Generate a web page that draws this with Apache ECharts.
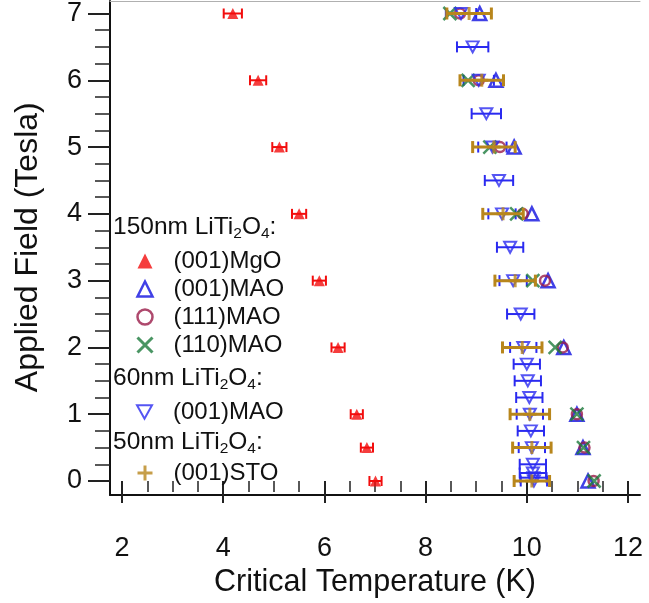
<!DOCTYPE html>
<html><head><meta charset="utf-8">
<script src="https://cdn.jsdelivr.net/npm/echarts@6/dist/echarts.min.js"></script>
<style>html,body{margin:0;padding:0;background:#fff}#c{width:649px;height:603px}</style>
</head><body><div id="c"></div>
<script>
// ---- data ----
const xTicks = [2, 4, 6, 8, 10, 12];
const yTicks = [0, 1, 2, 3, 4, 5, 6, 7];

const mgoField = [7, 6, 5, 4, 3, 2, 1, 0.5, 0];
const mgoTc    = [4.19, 4.69, 5.11, 5.50, 5.90, 6.27, 6.64, 6.84, 7.01];
const mgoErr   = [0.18, 0.16, 0.14, 0.14, 0.13, 0.13, 0.12, 0.12, 0.12];

const mao150Field = [7, 6, 5, 4, 3, 2, 1, 0.5, 0];
const mao150Tc    = [9.07, 9.39, 9.75, 10.10, 10.42, 10.73, 10.99, 11.11, 11.21];

const mao111Field = [7, 6, 5, 4, 3, 2, 1, 0.5, 0];
const mao111Tc    = [8.68, 9.05, 9.47, 9.92, 10.36, 10.71, 10.99, 11.14, 11.32];

const mao110Field = [7, 6, 5, 4, 3, 2, 1, 0.5, 0];
const mao110Tc    = [8.48, 8.84, 9.27, 9.80, 10.12, 10.56, 10.99, 11.12, 11.33];

const mao60Field = [7, 6.5, 6, 5.5, 5, 4.5, 4, 3.5, 3, 2.5, 2, 1.75, 1.5, 1.25, 1, 0.75, 0.5, 0.25, 0.12, 0.05, 0];
const mao60Tc    = [8.70, 8.93, 9.05, 9.20, 9.32, 9.45, 9.51, 9.67, 9.73, 9.88, 9.93, 10.00, 10.02, 10.05, 10.06, 10.08, 10.10, 10.12, 10.12, 10.13, 10.14];
const mao60Err   = [0.30, 0.31, 0.30, 0.29, 0.28, 0.28, 0.27, 0.26, 0.27, 0.27, 0.26, 0.26, 0.26, 0.26, 0.26, 0.26, 0.26, 0.26, 0.26, 0.26, 0.26];

const stoField = [7, 6, 5, 4, 3, 2, 1, 0.5, 0];
const stoTc    = [8.86, 9.11, 9.35, 9.53, 9.77, 9.91, 10.06, 10.10, 10.10];
const stoErr   = [0.44, 0.43, 0.42, 0.40, 0.40, 0.39, 0.39, 0.38, 0.35];

const names = {
  mgo: '150 (001)MgO', mao150: '150 (001)MAO', mao111: '150 (111)MAO', mao110: '150 (110)MAO',
  mao60: '60 (001)MAO', sto: '50 (001)STO'
};

// ---- styles ----
const FONT = "'Liberation Sans', Arial, sans-serif";
const C = { red: '#f20d0d', blue: '#1010e0', purple: '#9a1b48', green: '#1d7a3c', blue2: '#2a2af0', orange: '#b8861c' };
const XSYM = 'path://M0,0L10,10M0,10L10,0';
const PSYM = 'path://M5,0L5,10M0,5L10,5';
const DTRI = 'path://M0,0L10,0L5,9Z';

const zip = (a, b) => a.map((v, i) => [v, b[i]]);
const zip3 = (a, b, c) => a.map((v, i) => [v, b[i], c[i]]);

function errSeries(data, color, cap, lw, z) {
  return {
    type: 'custom', xAxisIndex: 2, yAxisIndex: 1, z: z, silent: true,
    data: data,
    renderItem: function (params, api) {
      const x = api.value(0), y = api.value(1), e = api.value(2);
      const p1 = api.coord([x - e, y]), p2 = api.coord([x + e, y]);
      const st = { stroke: color, lineWidth: lw };
      return { type: 'group', children: [
        { type: 'line', shape: { x1: p1[0], y1: p1[1], x2: p2[0], y2: p2[1] }, style: st },
        { type: 'line', shape: { x1: p1[0], y1: p1[1] - cap / 2, x2: p1[0], y2: p1[1] + cap / 2 }, style: st },
        { type: 'line', shape: { x1: p2[0], y1: p2[1] - cap / 2, x2: p2[0], y2: p2[1] + cap / 2 }, style: st }
      ]};
    }
  };
}

const hollow = (c, w) => ({ color: 'rgba(0,0,0,0)', borderColor: c, borderWidth: w });

const chart = echarts.init(document.getElementById('c'));

const header = (txt, y) => ({
  type: 'text', x: 113, y: y, z: 100,
  style: {
    text: txt, fill: '#111', verticalAlign: 'middle',
    rich: {
      m: { fontSize: 24.5, fontFamily: FONT, lineHeight: 30, fill: '#111' },
      s: { fontSize: 15.5, fontFamily: FONT, lineHeight: 12, verticalAlign: 'bottom', fill: '#111' }
    }
  }
});

const legendBase = {
  orient: 'vertical', left: 131, itemWidth: 15, itemHeight: 15, itemGap: 4,
  selectedMode: false,
  formatter: n => '{t|' + n.replace(/^\S+ /, '') + '}',
  textStyle: { color: '#111', fontFamily: FONT, fontSize: 24, lineHeight: 24,
    rich: { t: { fontSize: 24, fontFamily: FONT, padding: [0, 0, 0, 16], color: '#111' } } }
};

chart.setOption({
  animation: false,
  backgroundColor: '#fff',
  grid: [
    { left: 110, right: 9, top: 1, bottom: 108 },
    { left: 122, right: 21, top: 10, bottom: 122 }
  ],
  xAxis: [
    { gridIndex: 0, type: 'value', min: 0, max: 1, position: 'bottom',
      axisLine: { show: true, lineStyle: { color: '#111', width: 2 } },
      axisTick: { show: false }, axisLabel: { show: false }, splitLine: { show: false } },
    { gridIndex: 0, type: 'value', min: 0, max: 1, position: 'top',
      axisLine: { show: true, lineStyle: { color: '#b0b0b0', width: 1 } },
      axisTick: { show: false }, axisLabel: { show: false }, splitLine: { show: false } },
    { gridIndex: 1, type: 'value', min: xTicks[0], max: xTicks[xTicks.length - 1], interval: 2,
      position: 'bottom', offset: 14,
      axisLine: { show: false },
      axisTick: { show: true, inside: false, length: 22, lineStyle: { color: '#222', width: 2 } },
      minorTick: { show: true, splitNumber: 4, length: 11, lineStyle: { color: '#222', width: 1.5 } },
      axisLabel: { fontSize: 27, fontFamily: FONT, color: '#111', margin: 40 },
      splitLine: { show: false }, minorSplitLine: { show: false },
      name: 'Critical Temperature (K)', nameLocation: 'middle', nameGap: 65,
      nameTextStyle: { fontSize: 30.5, fontFamily: FONT, color: '#111' } }
  ],
  yAxis: [
    { gridIndex: 0, type: 'value', min: 0, max: 1, position: 'left',
      axisLine: { show: true, lineStyle: { color: '#111', width: 2 } },
      axisTick: { show: false }, axisLabel: { show: false }, splitLine: { show: false } },
    { gridIndex: 1, type: 'value', min: yTicks[0], max: yTicks[yTicks.length - 1], interval: 1,
      position: 'left', offset: 12,
      axisLine: { show: false },
      axisTick: { show: true, inside: false, length: 22, lineStyle: { color: '#222', width: 2 } },
      minorTick: { show: true, splitNumber: 4, length: 15, lineStyle: { color: '#222', width: 1.5 } },
      axisLabel: { fontSize: 27, fontFamily: FONT, color: '#111', margin: 28 },
      splitLine: { show: false }, minorSplitLine: { show: false },
      name: 'Applied Field (Tesla)', nameLocation: 'middle', nameGap: 66,
      nameTextStyle: { fontSize: 32, fontFamily: FONT, color: '#111' } }
  ],
  legend: [
    Object.assign({}, legendBase, { top: 244, data: [
      { name: names.mgo, icon: 'triangle', itemStyle: { color: C.red, borderWidth: 0 } },
      { name: names.mao150, icon: 'triangle', itemStyle: hollow(C.blue, 2.5) },
      { name: names.mao111, icon: 'circle', itemStyle: hollow(C.purple, 2.5) },
      { name: names.mao110, icon: XSYM, itemStyle: hollow(C.green, 3) }
    ]}),
    Object.assign({}, legendBase, { top: 395, data: [
      { name: names.mao60, icon: DTRI, itemStyle: hollow(C.blue2, 2) }
    ]}),
    Object.assign({}, legendBase, { top: 456, data: [
      { name: names.sto, icon: PSYM, itemStyle: hollow(C.orange, 3) }
    ]})
  ],
  graphic: [
    header('{m|150nm LiTi}{s|2}{m|O}{s|4}{m|:}', 227),
    header('{m|60nm LiTi}{s|2}{m|O}{s|4}{m|:}', 378),
    header('{m|50nm LiTi}{s|2}{m|O}{s|4}{m|:}', 442)
  ],
  series: [
    errSeries(zip3(mgoTc, mgoField, mgoErr), C.red, 10, 2, 2),
    { name: names.mgo, type: 'scatter', xAxisIndex: 2, yAxisIndex: 1, z: 3,
      symbol: 'triangle', symbolSize: 11, itemStyle: { color: C.red },
      data: zip(mgoTc, mgoField) },
    { name: names.mao150, type: 'scatter', xAxisIndex: 2, yAxisIndex: 1, z: 3,
      symbol: 'triangle', symbolSize: 13, itemStyle: hollow(C.blue, 2.5),
      data: zip(mao150Tc, mao150Field) },
    { name: names.mao111, type: 'scatter', xAxisIndex: 2, yAxisIndex: 1, z: 4,
      symbol: 'circle', symbolSize: 10, itemStyle: hollow(C.purple, 2.5),
      data: zip(mao111Tc, mao111Field) },
    { name: names.mao110, type: 'scatter', xAxisIndex: 2, yAxisIndex: 1, z: 5,
      symbol: XSYM, symbolSize: 13, itemStyle: hollow(C.green, 2.5),
      data: zip(mao110Tc, mao110Field) },
    errSeries(zip3(mao60Tc, mao60Field, mao60Err), C.blue2, 11, 2, 5),
    { name: names.mao60, type: 'scatter', xAxisIndex: 2, yAxisIndex: 1, z: 6,
      symbol: DTRI, symbolSize: [12, 11], itemStyle: hollow(C.blue2, 2),
      data: zip(mao60Tc, mao60Field) },
    errSeries(zip3(stoTc, stoField, stoErr), C.orange, 12, 3, 7),
    { name: names.sto, type: 'scatter', xAxisIndex: 2, yAxisIndex: 1, z: 8,
      symbol: PSYM, symbolSize: 13, itemStyle: hollow(C.orange, 3),
      data: zip(stoTc, stoField) }
  ]
});
</script></body></html>
